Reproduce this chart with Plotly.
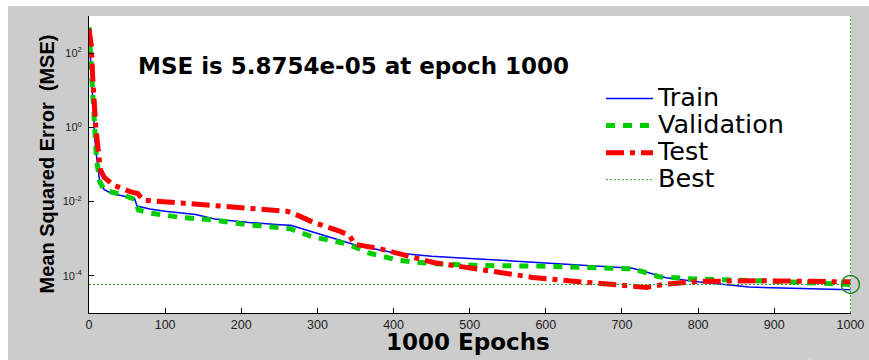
import plotly.graph_objects as go

# ---- data ----
train_epochs = [0, 2, 4, 6, 8, 10, 12, 14, 20, 30, 45, 60, 63, 80, 100, 140, 165, 210, 250, 265, 295, 350, 400, 450, 500, 600, 714, 758, 802, 867, 1000]
train_mse = [398, 63, 7.9, 1.6, 0.40, 0.16, 0.071, 0.035, 0.021, 0.0166, 0.0141, 0.012, 0.0076, 0.0063, 0.0055, 0.0045, 0.0034, 0.00275, 0.0024, 0.0023, 0.0015, 6.8e-4, 4.2e-4, 3.4e-4, 2.95e-4, 2.2e-4, 1.6e-4, 8.9e-5, 6.8e-5, 5.0e-5, 4.2e-5]

val_epochs = [0, 2, 4, 6, 8, 10, 12, 14, 20, 30, 45, 60, 65, 80, 100, 119, 163, 207, 251, 264, 294, 338, 370, 408, 451, 513, 600, 714, 749, 793, 880, 1000]
val_mse = [500, 100, 10, 2.0, 0.32, 0.126, 0.071, 0.035, 0.0204, 0.0186, 0.0151, 0.0115, 0.0059, 0.0049, 0.0043, 0.0038, 0.0032, 0.0024, 0.0020, 0.00186, 0.00112, 7.4e-4, 4.0e-4, 2.6e-4, 2.14e-4, 1.9e-4, 1.82e-4, 1.55e-4, 9.5e-5, 8.3e-5, 7.4e-5, 5.8754e-5]

test_epochs = [0, 3, 5, 7, 9, 11, 13, 15, 20, 32, 54, 64, 71, 97, 141, 207, 260, 273, 294, 329, 342, 349, 382, 452, 504, 583, 649, 714, 732, 758, 802, 880, 1000]
test_mse = [450, 160, 20, 3.2, 1.0, 0.40, 0.126, 0.071, 0.045, 0.028, 0.0186, 0.0166, 0.011, 0.010, 0.0081, 0.0062, 0.0055, 0.0044, 0.0028, 0.0016, 0.00123, 7.1e-4, 5.4e-4, 2.3e-4, 1.6e-4, 9.1e-5, 6.8e-5, 5.5e-5, 4.9e-5, 6.0e-5, 7.1e-5, 7.4e-5, 6.9e-5]

best_epoch = 1000
best_mse = 5.8754e-05
x_range = [0, 1000]
y_range_log = [-5, 3]

x_ticks = [0, 100, 200, 300, 400, 500, 600, 700, 800, 900, 1000]
y_ticks = [1e-4, 1e-2, 1e0, 1e2]
y_ticktext = ["10<sup>-4</sup>", "10<sup>-2</sup>", "10<sup>0</sup>", "10<sup>2</sup>"]

title_text = "MSE is 5.8754e-05 at epoch 1000"
x_title = "1000 Epochs"
y_title = "Mean Squared Error\u00a0 (MSE)"

GRAY = "#cccccc"


def leg(name):
    return '<span style="font-size:25.5px">' + name + '</span>'


fig = go.Figure()
fig.add_trace(go.Scatter(x=train_epochs, y=train_mse, mode="lines", name=leg("Train"),
                         line=dict(color="#0000ff", width=1.5)))
fig.add_trace(go.Scatter(x=val_epochs, y=val_mse, mode="lines", name=leg("Validation"),
                         line=dict(color="#00cc00", width=5, dash="9px,8px")))
fig.add_trace(go.Scatter(x=test_epochs, y=test_mse, mode="lines", name=leg("Test"),
                         line=dict(color="#ff0000", width=5, dash="18px,6px,5px,6px")))
fig.add_trace(go.Scatter(x=[x_range[0], best_epoch, None, best_epoch, best_epoch],
                         y=[best_mse, best_mse, None, 10 ** y_range_log[0], 10 ** y_range_log[1]],
                         mode="lines", name=leg("Best"),
                         line=dict(color="#22a022", width=1, dash="2px,2px")))
fig.add_trace(go.Scatter(x=[best_epoch], y=[best_mse], mode="markers", showlegend=False,
                         cliponaxis=False,
                         marker=dict(symbol="circle-open", size=18, color="#1a8a1a",
                                     line=dict(width=1.5, color="#1a8a1a"))))

fig.update_layout(
    width=869, height=360, autosize=False,
    margin=dict(l=89, r=18, t=16, b=47, pad=0, autoexpand=False),
    paper_bgcolor=GRAY, plot_bgcolor="white",
    showlegend=True,
    legend=dict(x=(601 - 89) / 762, y=(313 - 80) / 297, xanchor="left", yanchor="top",
                bgcolor="rgba(0,0,0,0)", borderwidth=0,
                font=dict(family="DejaVu Sans", size=18.5, color="black"),
                itemwidth=47, tracegroupgap=0),
    xaxis=dict(range=[x_range[0], x_range[1] + 0.8], showline=True, linecolor="black", linewidth=1,
               ticks="inside", ticklen=5, tickcolor="black", tickvals=x_ticks,
               tickfont=dict(family="Liberation Sans", size=12.5, color="#222222"),
               showgrid=False, zeroline=False, mirror=False, automargin=False),
    yaxis=dict(type="log", range=y_range_log, showline=True, linecolor="black", linewidth=1,
               ticks="inside", ticklen=5, tickcolor="black", tickvals=y_ticks, ticktext=y_ticktext,
               tickfont=dict(family="Liberation Sans", size=11, color="#222222"),
               ticklabelstandoff=4, showgrid=False, zeroline=False, automargin=False),
    shapes=[
        dict(type="rect", xref="paper", yref="paper", x0=-0.3, x1=1.2, y0=(313 - 6) / 297, y1=1.2,
             fillcolor="white", line=dict(width=0), layer="below"),
        dict(type="rect", xref="paper", yref="paper", x0=-0.3, x1=(8 - 89) / 762, y0=-0.3, y1=1.2,
             fillcolor="white", line=dict(width=0), layer="below"),
    ],
    annotations=[
        dict(text="<b>" + title_text + "</b>", xref="paper", yref="paper",
             x=(353 - 89) / 762, y=(313 - 66.3) / 297, xanchor="center", yanchor="middle",
             showarrow=False, font=dict(family="DejaVu Sans", size=23, color="black")),
        dict(text="<b>" + x_title + "</b>", xref="paper", yref="paper",
             x=(468 - 89) / 762, y=(313 - 341.5) / 297, xanchor="center", yanchor="middle",
             showarrow=False, font=dict(family="DejaVu Sans", size=23, color="black")),
        dict(text="<b>" + y_title + "</b>", xref="paper", yref="paper", textangle=-90,
             x=(46 - 89) / 762, y=0.5, xanchor="center", yanchor="middle",
             showarrow=False, font=dict(family="Liberation Sans", size=20, color="black")),
        dict(text="Activate", xref="paper", yref="paper",
             x=(816 - 89) / 762, y=(313 - 348) / 297, xanchor="center", yanchor="top",
             showarrow=False, font=dict(family="Noto Sans", size=24, color="#d8d8d8")),
    ],
)

fig.write_html("out.html")
